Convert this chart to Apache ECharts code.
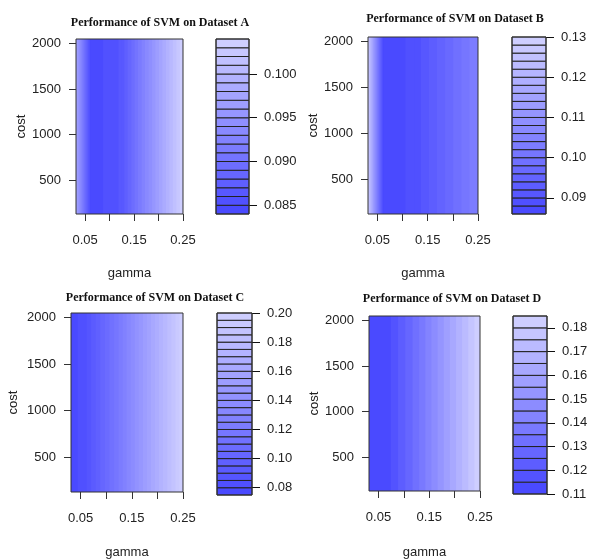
<!DOCTYPE html>
<html>
<head>
<meta charset="utf-8">
<script src="https://cdn.jsdelivr.net/npm/echarts@6/dist/echarts.min.js"></script>
<style>
  html, body { margin: 0; padding: 0; background: #fff; }
  #chart { width: 591px; height: 560px; }
</style>
</head>
<body>
<div id="chart"></div>
<script>
// tuning grid (gamma = 2^-5..2^-2, cost = 2^7..2^11)
const gamma = [0.03125, 0.0625, 0.125, 0.25]
const costRange = [128, 2048]

// error per gamma (flat along cost)
const errA = [0.098, 0.0842, 0.0862, 0.1038]
const errB = [0.129, 0.0868, 0.0885, 0.104]
const errC = [0.076, 0.085, 0.12, 0.199]
const errD = [0.1102, 0.1106, 0.1325, 0.1842]

// contour levels shown in the keys
const levelsA = [0.084, 0.085, 0.086, 0.087, 0.088, 0.089, 0.090, 0.091, 0.092, 0.093, 0.094,
  0.095, 0.096, 0.097, 0.098, 0.099, 0.100, 0.101, 0.102, 0.103, 0.104]
const levelsB = [0.086, 0.088, 0.090, 0.092, 0.094, 0.096, 0.098, 0.100, 0.102, 0.104, 0.106, 0.108,
  0.110, 0.112, 0.114, 0.116, 0.118, 0.120, 0.122, 0.124, 0.126, 0.128, 0.130]
const levelsC = [0.075, 0.080, 0.085, 0.090, 0.095, 0.100, 0.105, 0.110, 0.115, 0.120, 0.125, 0.130, 0.135,
  0.140, 0.145, 0.150, 0.155, 0.160, 0.165, 0.170, 0.175, 0.180, 0.185, 0.190, 0.195, 0.200]
const levelsD = [0.110, 0.115, 0.120, 0.125, 0.130, 0.135, 0.140, 0.145, 0.150, 0.155, 0.160,
  0.165, 0.170, 0.175, 0.180, 0.185]

// tick labels
const costTicks = [500, 1000, 1500, 2000]
const gammaTicks = [0.05, 0.10, 0.15, 0.20, 0.25]
const gammaLabels = [0.05, 0.15, 0.25]
const keyTicksA = [0.085, 0.090, 0.095, 0.100]
const keyTicksB = [0.09, 0.10, 0.11, 0.12, 0.13]
const keyTicksC = [0.08, 0.10, 0.12, 0.14, 0.16, 0.18, 0.20]
const keyTicksD = [0.11, 0.12, 0.13, 0.14, 0.15, 0.16, 0.17, 0.18]

const panels = [
  { name: 'A', err: errA, levels: levelsA, keyTicks: keyTicksA, dec: 3,
    plot: { left: 76, top: 39, width: 107, height: 175 }, key: { left: 216, top: 39, width: 33, height: 175 },
    title: [155, 12], costGap: 46, gammaGap: 53 },
  { name: 'B', err: errB, levels: levelsB, keyTicks: keyTicksB, dec: 2,
    plot: { left: 368, top: 37, width: 110, height: 177 }, key: { left: 512, top: 37, width: 34, height: 177 },
    title: [450, 8], costGap: 48, gammaGap: 53 },
  { name: 'C', err: errC, levels: levelsC, keyTicks: keyTicksC, dec: 2,
    plot: { left: 71, top: 313, width: 112, height: 182 }, key: { left: 217, top: 313, width: 35, height: 182 },
    title: [150, 287], costGap: 51, gammaGap: 54 },
  { name: 'D', err: errD, levels: levelsD, keyTicks: keyTicksD, dec: 2,
    plot: { left: 369, top: 316, width: 111, height: 178 }, key: { left: 513, top: 316, width: 34, height: 178 },
    title: [447, 288], costGap: 47, gammaGap: 55 }
]

const textColor = '#222'
const lineColor = '#333'
const font = 'Liberation Sans'

function bandColor(i, n) {
  const t = n > 1 ? i / (n - 1) : 0
  const c = Math.round(74 + t * (206 - 74))
  return 'rgb(' + c + ',' + c + ',255)'
}

function bandIndex(z, levels) {
  for (let i = 0; i < levels.length - 1; i++) {
    if (z < levels[i + 1]) return i
  }
  return levels.length - 2
}

// filled contour cell between two gamma grid points
function contourRender(levels) {
  const n = levels.length - 1
  return function (params, api) {
    const g0 = api.value(0), g1 = api.value(1), z0 = api.value(2), z1 = api.value(3)
    const cuts = [g0]
    levels.forEach(l => {
      if ((l > z0 && l < z1) || (l < z0 && l > z1)) {
        cuts.push(g0 + (l - z0) / (z1 - z0) * (g1 - g0))
      }
    })
    cuts.push(g1)
    cuts.sort((a, b) => a - b)
    const children = []
    for (let k = 0; k < cuts.length - 1; k++) {
      const gm = (cuts[k] + cuts[k + 1]) / 2
      const zm = z0 + (gm - g0) / (g1 - g0) * (z1 - z0)
      const p0 = api.coord([cuts[k], costRange[1]])
      const p1 = api.coord([cuts[k + 1], costRange[0]])
      children.push({
        type: 'rect',
        shape: { x: p0[0] - 0.4, y: p0[1], width: p1[0] - p0[0] + 0.8, height: p1[1] - p0[1] },
        style: { fill: bandColor(bandIndex(zm, levels), n) }
      })
    }
    return { type: 'group', children }
  }
}

function keyRender(levels) {
  const n = levels.length - 1
  return function (params, api) {
    const p0 = api.coord([0, api.value(1)])
    const p1 = api.coord([1, api.value(0)])
    return {
      type: 'rect',
      shape: { x: p0[0], y: p0[1], width: p1[0] - p0[0], height: p1[1] - p0[1] },
      style: { fill: bandColor(params.dataIndex, n), stroke: '#222', lineWidth: 1 }
    }
  }
}

const option = {
  animation: false,
  title: [],
  grid: [],
  xAxis: [],
  yAxis: [],
  series: []
}

panels.forEach((p, idx) => {
  const gi = idx * 2
  option.title.push({
    text: 'Performance of SVM on Dataset ' + p.name,
    left: p.title[0], top: p.title[1], textAlign: 'center',
    textStyle: { fontFamily: 'Liberation Serif', fontWeight: 'bold', fontSize: 12, color: '#111' }
  })
  option.grid.push(Object.assign({ show: true, z: 10, backgroundColor: 'transparent', borderColor: lineColor, borderWidth: 1 }, p.plot))
  option.grid.push(Object.assign({ show: true, z: 10, backgroundColor: 'transparent', borderColor: lineColor, borderWidth: 1 }, p.key))

  // main plot axes
  option.xAxis.push({
    type: 'value', gridIndex: gi, min: gamma[0], max: gamma[gamma.length - 1],
    name: 'gamma', nameLocation: 'middle', nameGap: p.gammaGap,
    nameTextStyle: { fontFamily: font, fontSize: 13, color: textColor },
    axisLine: { show: false, onZero: false },
    axisTick: { show: true, customValues: gammaTicks, length: 7, lineStyle: { color: lineColor } },
    axisLabel: { customValues: gammaLabels, margin: 20, formatter: v => v.toFixed(2),
      fontFamily: font, fontSize: 13, color: textColor },
    splitLine: { show: false }
  })
  option.yAxis.push({
    type: 'value', gridIndex: gi, min: costRange[0], max: costRange[1],
    name: 'cost', nameLocation: 'middle', nameGap: p.costGap,
    nameTextStyle: { fontFamily: font, fontSize: 13, color: textColor },
    axisLine: { show: false, onZero: false },
    axisTick: { show: true, customValues: costTicks, length: 7, lineStyle: { color: lineColor } },
    axisLabel: { customValues: costTicks, margin: 15, formatter: v => String(v),
      fontFamily: font, fontSize: 13, color: textColor },
    splitLine: { show: false }
  })

  // key axes
  option.xAxis.push({ type: 'value', gridIndex: gi + 1, min: 0, max: 1, show: false })
  option.yAxis.push({
    type: 'value', gridIndex: gi + 1, position: 'right',
    min: p.levels[0], max: p.levels[p.levels.length - 1],
    axisLine: { show: false, onZero: false },
    axisTick: { show: true, inside: false, customValues: p.keyTicks, length: 8, lineStyle: { color: '#111' } },
    axisLabel: { customValues: p.keyTicks, margin: 15, formatter: v => v.toFixed(p.dec),
      fontFamily: font, fontSize: 13, color: textColor },
    splitLine: { show: false }
  })

  const cells = []
  for (let i = 0; i < gamma.length - 1; i++) {
    cells.push([gamma[i], gamma[i + 1], p.err[i], p.err[i + 1]])
  }
  option.series.push({
    type: 'custom', xAxisIndex: gi, yAxisIndex: gi, clip: true,
    renderItem: contourRender(p.levels), data: cells, silent: true
  })

  const bands = []
  for (let i = 0; i < p.levels.length - 1; i++) {
    bands.push([p.levels[i], p.levels[i + 1]])
  }
  option.series.push({
    type: 'custom', xAxisIndex: gi + 1, yAxisIndex: gi + 1,
    renderItem: keyRender(p.levels), data: bands, silent: true
  })
})

const chart = echarts.init(document.getElementById('chart'))
chart.setOption(option)
</script>
</body>
</html>
